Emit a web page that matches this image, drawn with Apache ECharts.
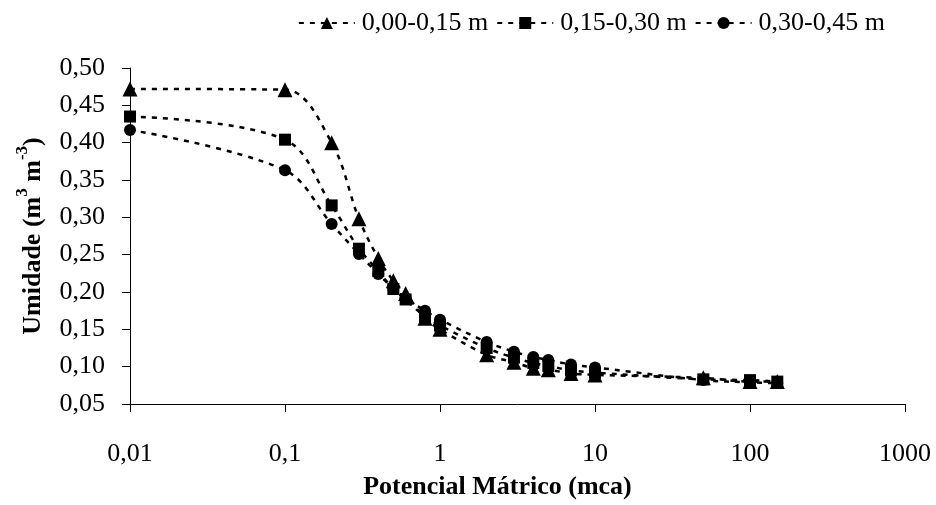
<!DOCTYPE html>
<html><head><meta charset="utf-8">
<script src="https://cdn.jsdelivr.net/npm/echarts@6/dist/echarts.min.js"></script>
<style>html,body{margin:0;padding:0;background:#fff}#c{width:936px;height:505px}</style>
</head><body><div id="c"></div>
<script>
var potentials = [0.01, 0.1, 0.2, 0.3, 0.4, 0.5, 0.6, 0.8, 1, 2, 3, 4, 5, 7, 10, 50, 100, 150];
var seriesNames = ['0,00-0,15 m', '0,15-0,30 m', '0,30-0,45 m'];
var layer1 = [0.472, 0.471, 0.400, 0.298, 0.245, 0.215, 0.198, 0.165, 0.150, 0.116, 0.106, 0.098, 0.096, 0.091, 0.089, 0.085, 0.080, 0.080];
var layer2 = [0.435, 0.404, 0.316, 0.258, 0.228, 0.204, 0.190, 0.167, 0.155, 0.125, 0.112, 0.105, 0.101, 0.095, 0.092, 0.083, 0.082, 0.080];
var layer3 = [0.417, 0.363, 0.291, 0.251, 0.224, 0.205, 0.192, 0.175, 0.163, 0.133, 0.120, 0.113, 0.109, 0.103, 0.099, 0.082, 0.079, 0.078];
var symbols = ['triangle', 'rect', 'circle'];
var symbolSizes = [15, 12, 12];

function pairs(ys){ return potentials.map(function(x,i){ return [x, ys[i]]; }); }
function fmt(v){ return String(Number(v.toPrecision(6))).replace('.', ','); }

var font = 'Liberation Serif';
var chart = echarts.init(document.getElementById('c'));
var data = [layer1, layer2, layer3];
chart.setOption({
  animation: false,
  backgroundColor: '#fff',
  textStyle: { fontFamily: font, color: '#000' },
  legend: {
    top: 5, right: 46, itemGap: 8, itemWidth: 56, itemHeight: 15,
    textStyle: { fontFamily: font, fontSize: 26, color: '#000', padding: [0, 0, 0, 2] },
    data: seriesNames
  },
  grid: { left: 130, right: 31, top: 68, bottom: 99 },
  xAxis: {
    type: 'log', logBase: 10, min: 0.01, max: 1000,
    name: 'Potencial Mátrico (mca)', nameLocation: 'middle', nameGap: 70,
    nameTextStyle: { fontFamily: font, fontSize: 26, fontWeight: 'bold', color: '#000', padding: [0, 40, 0, 0] },
    axisLine: { lineStyle: { color: '#000', width: 1 } },
    axisTick: { show: true, length: 8, lineStyle: { color: '#000' } },
    minorTick: { show: false },
    splitLine: { show: false },
    axisLabel: { fontFamily: font, fontSize: 26, color: '#000', margin: 37, formatter: fmt }
  },
  yAxis: {
    type: 'value', min: 0.05, max: 0.50, interval: 0.05,
    name: '{n|Umidade (m}{s|3}{n| m}{s|-3}{n|)}', nameLocation: 'middle', nameGap: 84, nameRotate: 90,
    nameTextStyle: {
      fontFamily: font, fontSize: 26, fontWeight: 'bold', color: '#000',
      rich: {
        n: { fontFamily: font, fontSize: 26, fontWeight: 'bold', color: '#000', verticalAlign: 'bottom', lineHeight: 32 },
        s: { fontFamily: font, fontSize: 17, fontWeight: 'bold', color: '#000', verticalAlign: 'top', lineHeight: 32 }
      }
    },
    axisLine: { show: true, lineStyle: { color: '#000', width: 1 } },
    axisTick: { show: true, length: 8, lineStyle: { color: '#000' } },
    splitLine: { show: false },
    axisLabel: { fontFamily: font, fontSize: 26, color: '#000', margin: 25, formatter: function(v){ return v.toFixed(2).replace('.', ','); } }
  },
  series: seriesNames.map(function(n, i){
    return {
      name: n, type: 'line', smooth: 0.35,
      data: pairs(data[i]),
      symbol: symbols[i], symbolSize: symbolSizes[i],
      itemStyle: { color: '#000' },
      lineStyle: { color: '#000', width: 2.5, type: [5, 6] }
    };
  })
});
</script></body></html>
